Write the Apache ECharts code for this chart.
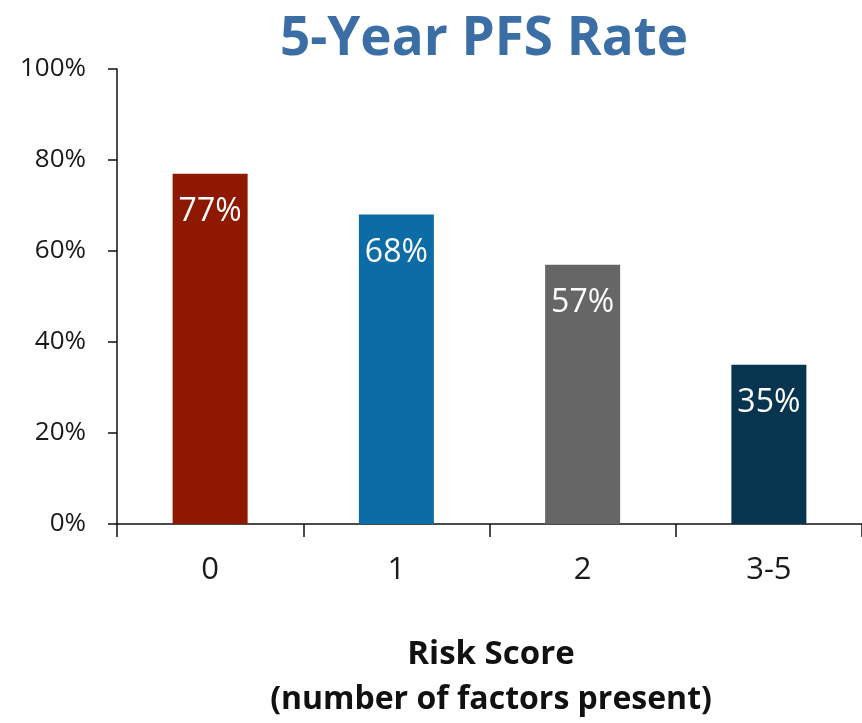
<!DOCTYPE html>
<html>
<head>
<meta charset="utf-8">
<script src="https://cdn.jsdelivr.net/npm/echarts@6/dist/echarts.min.js"></script>
<style>
  html, body { margin: 0; padding: 0; background: #ffffff; }
  #chart { width: 862px; height: 723px; }
</style>
</head>
<body>
<div id="chart"></div>
<script>
// Risk score groups and their 5-year progression-free survival rates (%)
const categories = ['0', '1', '2', '3-5'];
const pfsRates = [77, 68, 57, 35];
const barColors = ['#8e1800', '#0c6ca6', '#666666', '#07344f'];
const yTicks = { min: 0, max: 100, step: 20 };
const titleText = '5-Year PFS Rate';
const axisTitleLines = ['Risk Score', '(number of factors present)'];

const FONT = '"Open Sans", "Noto Sans", sans-serif';
const chart = echarts.init(document.getElementById('chart'), null, { renderer: 'canvas' });

chart.setOption({
  backgroundColor: '#ffffff',
  animation: false,
  grid: { left: 117, top: 69, width: 750, height: 455, containLabel: false },
  graphic: [
    {
      type: 'text',
      style: {
        text: titleText, x: 484, y: 40, align: 'center', verticalAlign: 'middle',
        fill: '#3a6ea5', font: 'bold 53px ' + FONT
      }
    },
    {
      type: 'text',
      style: {
        text: axisTitleLines[0], x: 491, y: 655, align: 'center', verticalAlign: 'middle',
        fill: '#111111', font: 'bold 33px ' + FONT
      }
    },
    {
      type: 'text',
      style: {
        text: axisTitleLines[1], x: 491, y: 700, align: 'center', verticalAlign: 'middle',
        fill: '#111111', font: 'bold 32px ' + FONT
      }
    }
  ],
  xAxis: {
    type: 'category',
    data: categories,
    boundaryGap: true,
    axisLine: { lineStyle: { color: '#111111', width: 1.5 } },
    axisTick: { show: true, inside: false, length: 13, alignWithLabel: false, lineStyle: { color: '#111111', width: 1.5 } },
    axisLabel: { color: '#1a1a1a', fontFamily: FONT, fontSize: 31, margin: 31 },
    splitLine: { show: false }
  },
  yAxis: {
    type: 'value',
    min: yTicks.min, max: yTicks.max, interval: yTicks.step,
    axisLine: { show: true, lineStyle: { color: '#111111', width: 1.5 } },
    axisTick: { show: true, inside: false, length: 9, lineStyle: { color: '#111111', width: 1.5 } },
    axisLabel: { color: '#1a1a1a', fontFamily: FONT, fontSize: 26, margin: 31, formatter: '{value}%' },
    splitLine: { show: false }
  },
  series: [{
    type: 'bar',
    barWidth: 75,
    data: pfsRates.map((v, i) => ({ value: v, itemStyle: { color: barColors[i] } })),
    label: {
      show: true,
      position: 'insideTop',
      distance: 22,
      color: '#ffffff',
      fontFamily: FONT,
      fontSize: 32,
      formatter: p => p.value + '%'
    }
  }]
});
</script>
</body>
</html>
